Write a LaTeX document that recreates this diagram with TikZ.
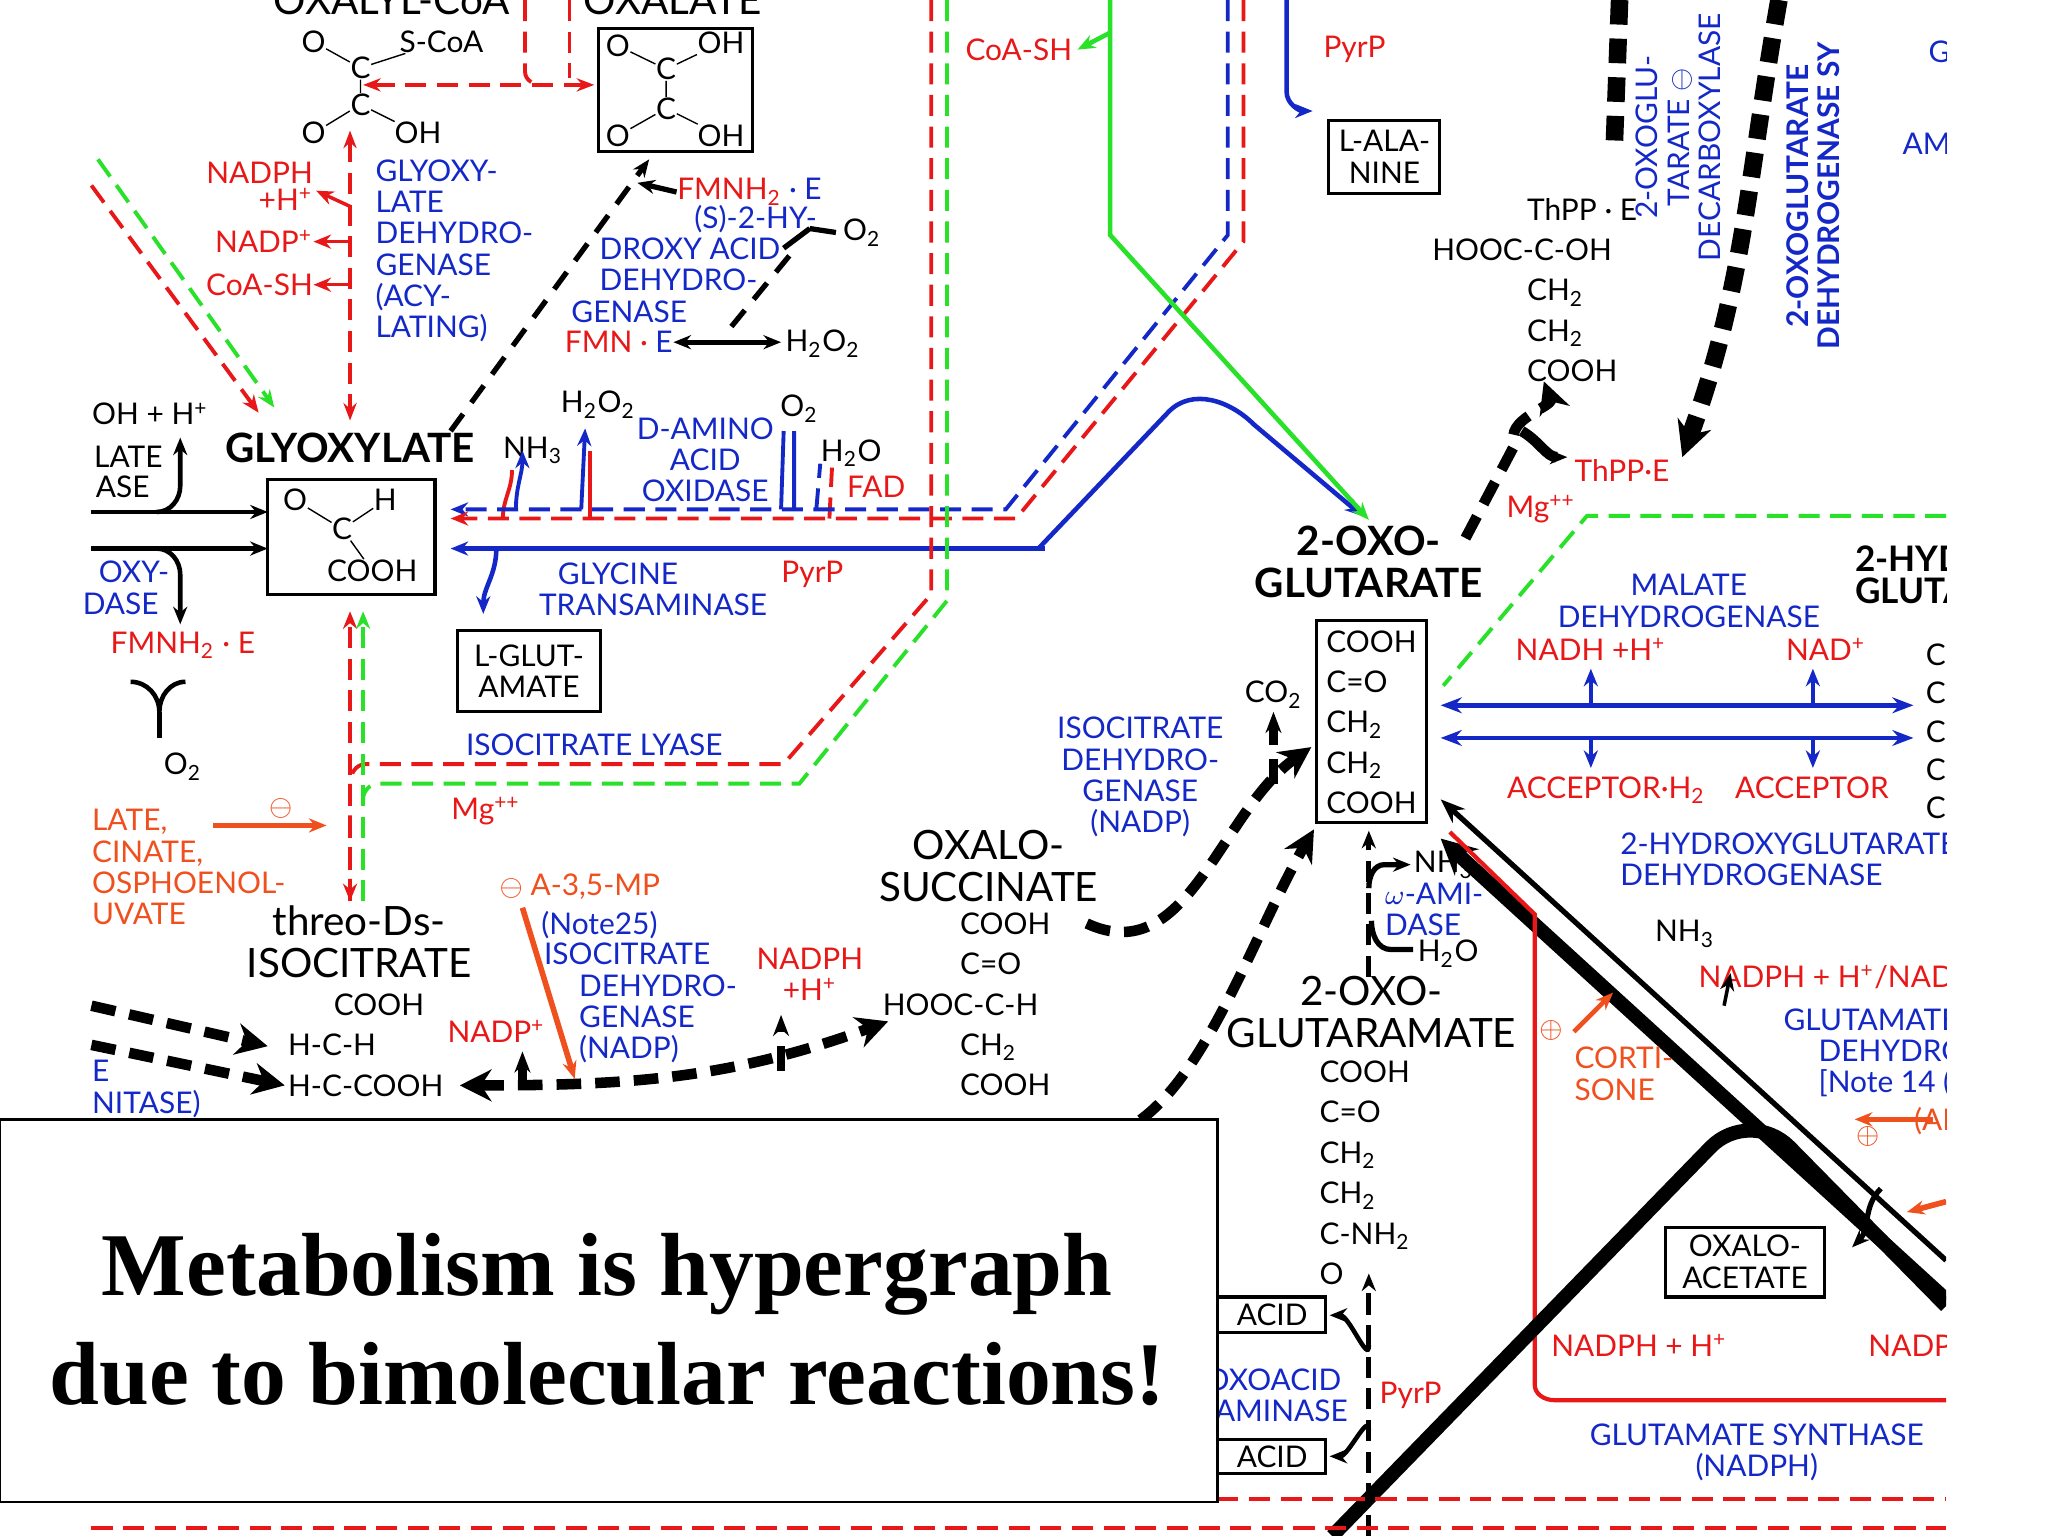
\documentclass[tikz,border=0pt]{standalone}
\usepackage{fontspec}
\setmainfont{Lato}
\newfontfamily\ttl{Liberation Serif}
\usetikzlibrary{arrows.meta}
\definecolor{rd}{RGB}{232,24,24}
\definecolor{bl}{RGB}{20,40,200}
\definecolor{gr}{RGB}{40,225,40}
\definecolor{og}{RGB}{240,80,30}
\begin{document}
\begin{tikzpicture}[x=0.01306cm,y=-0.01306cm,
  t/.style={font=\fontsize{8.5}{8.9}\selectfont,inner sep=0pt,align=center},
  tl/.style={t,align=left,anchor=west},
  big/.style={font=\bfseries\fontsize{11.5}{12}\selectfont,inner sep=0pt,align=center},
  bx/.style={draw,line width=0.9pt},
  ar/.style={-{Stealth[length=5pt,width=4pt]}},
  rdash/.style={rd,line width=1.1pt,dash pattern=on 6pt off 3pt},
  bdash/.style={bl,line width=1.1pt,dash pattern=on 6pt off 3pt},
  gdash/.style={gr,line width=1.1pt,dash pattern=on 6pt off 3pt},
  kdash/.style={black,line width=3pt,dash pattern=on 7pt off 4pt},
  bsol/.style={bl,line width=1.1pt},
  gsol/.style={gr,line width=1.1pt},
  ksol/.style={black,line width=1pt}]
\useasboundingbox (0,0) rectangle (1568,1176);
\fill[white] (0,0) rectangle (1568,1176);
\begin{scope}
\clip (0,0) rectangle (1490,1176);
% ---------- top left: oxalyl-CoA / oxalate
\node[big,font=\fontsize{11.5}{12}\selectfont] (oxcoa) at (300,0) {OXALYL-CoA};
\node[big,font=\fontsize{11.5}{12}\selectfont] (oxal) at (515,0) {OXALATE};
\node[t] (c1o) at (240,32) {O}; \node[t] (c1s) at (338,32) {S-CoA};
\node[t] (c1a) at (276,52) {C}; \node[t] (c1b) at (276,80) {C};
\node[t] (c1o2) at (240,102) {O}; \node[t] (c1oh) at (320,102) {OH};
\draw (c1o)--(c1a) (c1a)--(c1s) (c1a)--(c1b) (c1b)--(c1o2) (c1b)--(c1oh);
\draw[bx] (458,22) rectangle (576,116);
\node[t] (c2o) at (473,35) {O}; \node[t] (c2oh) at (552,33) {OH};
\node[t] (c2a) at (510,53) {C}; \node[t] (c2b) at (510,83) {C};
\node[t] (c2o2) at (473,104) {O}; \node[t] (c2oh2) at (552,104) {OH};
\draw (c2o)--(c2a) (c2a)--(c2oh) (c2a)--(c2b) (c2b)--(c2o2) (c2b)--(c2oh2);
\coordinate (rl) at (278,65); \coordinate (rr) at (455,65);
\draw[rdash,{Stealth[length=5pt]}-{Stealth[length=5pt]}] (rl)--(rr);
\draw[rdash] (402,0)--(402,55) to[out=-90,in=180] (415,65);
\draw[rdash] (436,0)--(436,60);
% glyoxylate dehydrogenase
\coordinate (g1) at (268,100); \coordinate (g2) at (268,322);
\draw[rdash,{Stealth[length=5pt]}-{Stealth[length=5pt]}] (g1)--(g2);
\node[t,rd,anchor=east] (nadph1) at (240,132) {NADPH};
\node[t,rd,anchor=east] (nadph1b) at (240,153) {+H\textsuperscript{+}};
\node[t,rd,anchor=east] (nadp1) at (240,185) {NADP\textsuperscript{+}};
\node[t,rd,anchor=east] (coa1) at (240,218) {CoA-SH};
\draw[rd,line width=1pt,ar] (268,158)--(242,146);
\draw[rd,line width=1pt,ar] (268,185)--(nadp1.east);
\draw[rd,line width=1pt,ar] (268,218)--(coa1.east);
\node[tl,bl] (gdh) at (287,192) {GLYOXY-\\LATE\\DEHYDRO-\\GENASE\\(ACY-\\LATING)};
% hydroxy acid dehydrogenase
\coordinate (hk1) at (345,330); \coordinate (hk2) at (497,122);
\draw[black,line width=1.5pt,dash pattern=on 6pt off 4pt,ar] (hk1)--(hk2);
\node[tl] (fmnh) at (518,147) {\textcolor{rd}{FMNH\textsubscript{2}} \textcolor{bl}{· E}};
\draw[ksol,line width=1.5pt,ar] (fmnh.west)--(488,140);
\node[tl,bl] (hdh) at (437,202) {\hspace*{35pt}(S)-2-HY-\\\hspace*{8pt}DROXY ACID\\\hspace*{8pt}DEHYDRO-\\GENASE};
\node[tl,rd] (fmn) at (432,262) {FMN · \textcolor{bl}{E}};
\draw[black,line width=1.5pt,dash pattern=on 6pt off 4pt] (560,250)--(605,195);
\draw[ksol,line width=1.5pt] (600,190)--(620,175) (620,175)--(640,178);
\node[tl] (o2a) at (645,178) {O\textsubscript{2}};
\draw[ksol,line width=1.5pt,ar] (560,262)--(fmn.east);
\draw[ksol,line width=1.5pt,ar] (560,262)--(598,262);
\node[tl] (h2o2a) at (601,263) {H\textsubscript{2}O\textsubscript{2}};
% left diagonals
\draw[gdash,ar] (75,122)--(210,312);
\draw[rdash,ar] (70,142)--(198,316);
% left partial stuff
\node[t,anchor=east] (ohh) at (160,317) {OH + H\textsuperscript{+}};
\node[t,anchor=east] (late) at (125,350) {LATE};
\node[t,anchor=east] (ase) at (115,373) {ASE};
\node[t,bl,anchor=east] (oxy) at (130,438) {OXY-};
\node[t,bl,anchor=east] (dase) at (122,462) {DASE};
\node[t,rd] (fmnh2b) at (140,494) {FMNH\textsubscript{2} · E};
\coordinate (glyin1) at (205,392); \coordinate (glyin2) at (205,420);
\draw[ksol,line width=1.3pt,ar] (70,392)--(glyin1);
\draw[ksol,line width=1.3pt,ar] (70,420)--(glyin2);
\draw[ksol,line width=1.3pt,ar] (120,392) to[out=0,in=-90] (138,372)--(138,335);
\draw[ksol,line width=1.3pt,ar] (120,420) to[out=0,in=90] (138,440)--(138,478);
\draw[ksol,line width=1.3pt] (100,522) to[out=0,in=90] (122,545) to[out=90,in=180] (142,522);
\draw[ksol,line width=1.3pt] (122,545)--(122,565);
\node[t] (o2b) at (140,587) {O\textsubscript{2}};
% glyoxylate
\node[big] (glyox) at (268,343) {GLYOXYLATE};
\draw[bx] (205,367) rectangle (333,455);
\node[t] (g3o) at (226,383) {O}; \node[t] (g3h) at (295,383) {H};
\node[t] (g3c) at (262,405) {C}; \node[t] (g3co) at (285,437) {COOH};
\draw (g3o)--(g3c) (g3c)--(g3h) (g3c)--(g3co);
% amino acid oxidase
\node[t] (nh3a) at (408,345) {NH\textsubscript{3}};
\node[t] (h2o2b) at (458,310) {H\textsubscript{2}O\textsubscript{2}};
\node[t,bl] (daao) at (540,352) {D-AMINO\\ACID\\OXIDASE};
\node[t] (o2c) at (612,313) {O\textsubscript{2}};
\node[tl] (h2ob) at (628,347) {H\textsubscript{2}O};
\node[tl,rd] (fad) at (648,373) {FAD};
\draw[bsol,ar] (395,390) to[out=90,in=-90] (400,345) ;
\draw[rd,line width=1.1pt] (385,397) to[out=90,in=-90] (392,360);
\draw[bsol,ar] (445,390)--(448,328);
\draw[rd,line width=1.1pt] (452,397)--(452,345);
\draw[bsol] (598,390)--(600,330) (608,330)--(608,390);
\draw[bdash] (625,390)--(628,355); \draw[rdash] (635,397)--(637,358);
% main horizontal lines
\coordinate (gla) at (345,390); \coordinate (glb) at (345,397); \coordinate (glc) at (345,420);
\draw[bdash,ar] (940,0)--(940,180)--(770,390)--(gla);
\draw[rdash,ar] (952,0)--(952,185)--(778,397)--(glb);
\coordinate (ogin1) at (1043,395);
\draw[bsol,line width=1.3pt,ar] (795,420) -- (895,315) to[out=45,in=135] (960,325) -- (ogin1);
\draw[bsol,line width=1.3pt,ar] (800,420)--(glc);
\draw[bsol,line width=1.3pt,ar] (985,0)--(985,70) to[out=-90,in=180] (1005,85);
\draw[bsol,line width=1.3pt,ar] (380,420) to[out=-90,in=90] (370,470);
\node[t,bl] (glyt) at (500,451) {\hspace*{-20pt}GLYCINE\\TRANSAMINASE};
\node[t,rd] (pyrp1) at (622,440) {PyrP};
\draw[bx] (350,483) rectangle (460,545);
\node[t] (lglu) at (405,514) {L-GLUT-\\AMATE};
% green solid
\coordinate (ogin2) at (1048,398);
\draw[gsol,line width=1.3pt,ar] (850,0)--(850,180)--(ogin2);
\node[t,rd] (coash2) at (780,38) {CoA-SH};
\draw[gsol,line width=1.3pt,ar] (850,25)--(825,38);
% isocitrate lyase
\draw[rdash,ar] (713,0)--(713,455)--(600,585)--(280,585) to[out=180,in=90] (268,600)--(268,690);
\draw[rdash,ar] (268,690)--(268,468);
\draw[gdash] (725,0)--(725,460)--(612,600)--(290,600) to[out=180,in=90] (278,612);
\draw[gdash,ar] (278,690)--(278,468);
\node[t,bl] (icl) at (455,570) {ISOCITRATE LYASE};
\node[t,rd] (mg1) at (372,621) {Mg\textsuperscript{++}};
% alanine
\node[t,rd] (pyrp2) at (1037,38) {PyrP};
\draw[bx] (1017,92) rectangle (1102,148);
\node[t] (lala) at (1060,120) {L-ALA-\\NINE};
% 2-oxoglutarate
\node[big] (og) at (1048,430) {2-OXO-\\GLUTARATE};
\draw[bx] (1008,475) rectangle (1092,630);
\node[t,align=left] (ogs) at (1050,553) {COOH\\[2.6pt]C=O\\[2.6pt]CH\textsubscript{2}\\[2.6pt]CH\textsubscript{2}\\[2.6pt]COOH};
\node[t] (co2) at (975,532) {CO\textsubscript{2}};
\draw[kdash,line width=2.5pt,-{Stealth[length=6pt]}] (975,600)--(975,545);
\coordinate (ogin3) at (1004,572); \coordinate (ogin4) at (1006,635);
\draw[kdash,-{Stealth[length=9pt,width=9pt]}] (832,707) to[out=-25,in=215] (ogin3);
\draw[kdash,-{Stealth[length=9pt,width=9pt]}] (790,860) to[out=-30,in=240] (ogin4);
\node[t,bl] (icdh) at (873,595) {ISOCITRATE\\DEHYDRO-\\GENASE\\(NADP)};
% oxalosuccinate
\node[big,font=\fontsize{11.5}{12}\selectfont] (oxs) at (757,663) {OXALO-\\SUCCINATE};
\node[t,align=left] (oxss) at (740,769) {\hspace*{22pt}COOH\\[2.6pt]\hspace*{22pt}C=O\\[2.6pt]HOOC-C-H\\[2.6pt]\hspace*{22pt}CH\textsubscript{2}\\[2.6pt]\hspace*{22pt}COOH};
% isocitrate
\node[big,font=\fontsize{11.5}{12}\selectfont] (iso) at (275,721) {threo-Ds-\\ISOCITRATE};
\node[t,align=left] (isos) at (280,800) {\hspace*{13pt}COOH\\[2.6pt]H-C-H\\[2.6pt]H-C-COOH};
\coordinate (isin1) at (205,801); \coordinate (isin2) at (218,831);
\draw[kdash,-{Stealth[length=9pt,width=9pt]}] (70,770)--(isin1);
\draw[kdash,-{Stealth[length=9pt,width=9pt]}] (70,800)--(isin2);
\node[t,bl,anchor=west] (ae) at (70,820) {E};
\node[t,bl,anchor=west] (anit) at (70,845) {NITASE)};
\coordinate (isr) at (352,831); \coordinate (oxl) at (680,782);
\draw[kdash,{Stealth[length=9pt,width=9pt]}-{Stealth[length=9pt,width=9pt]}] (isr) to[out=0,in=200] (oxl);
\node[t,rd] (nadp2) at (380,790) {NADP\textsuperscript{+}};
\node[t,rd] (nadph2) at (620,746) {NADPH\\+H\textsuperscript{+}};
\draw[kdash,line width=2.5pt,-{Stealth[length=6pt]}] (400,830)--(400,805);
\draw[kdash,line width=2.5pt,-{Stealth[length=6pt]}] (598,820)--(598,777);
\node[tl,og] (amp) at (382,679) {$\ominus$ A-3,5-MP};
\node[tl,bl] (n25) at (414,708) {(Note25)};
\node[tl,bl] (icdh2) at (416,768) {ISOCITRATE\\\hspace*{10pt}DEHYDRO-\\\hspace*{10pt}GENASE\\\hspace*{10pt}(NADP)};
\draw[og,line width=1.6pt,ar] (400,695)--(440,826);
\node[t,og,align=left,anchor=west] (inh) at (70,664) {LATE,\\CINATE,\\OSPHOENOL-\\UVATE};
\draw[og,line width=1.6pt,ar] (163,632)--(250,632);
\node[t,og] (ominus1) at (215,619) {$\ominus$};
% right: malate dehydrogenase
\coordinate (mr1) at (1103,540); \coordinate (mr2) at (1103,565);
\draw[bsol,line width=1.3pt,{Stealth[length=6pt]}-{Stealth[length=6pt]}] (mr1)--(1465,540);
\draw[bsol,line width=1.3pt,{Stealth[length=6pt]}-{Stealth[length=6pt]}] (mr2)--(1465,565);
\node[t,bl] (mdh) at (1293,460) {MALATE\\DEHYDROGENASE};
\node[t,rd] (nadh) at (1218,497) {NADH +H\textsuperscript{+}};
\node[t,rd] (nadp3) at (1398,497) {NAD\textsuperscript{+}};
\draw[bsol,ar] (1218,540)--(1218,512); \draw[bsol,ar] (1388,540)--(1388,512);
\draw[bsol,ar] (1218,565)--(1218,588); \draw[bsol,ar] (1388,565)--(1388,588);
\node[t,rd] (acc) at (1300,605) {ACCEPTOR·H\textsubscript{2}\quad ACCEPTOR};
\node[t,bl,align=left,anchor=west] (hgdh) at (1240,658) {2-HYDROXYGLUTARATE\\DEHYDROGENASE};
\node[t,align=left,anchor=west] (hyg) at (1420,440) {\bfseries\fontsize{10}{12}\selectfont 2-HYDROXY-\\\bfseries\fontsize{10}{12}\selectfont GLUTARATE};
\node[t,align=left,anchor=west] (ccol) at (1474,560) {C\\[2pt]C\\[2pt]C\\[2pt]C\\[2pt]C};
\draw[gdash] (1490,395)--(1215,395)--(1105,525);
% thpp
\coordinate (tp) at (1182,292);
\draw[kdash,-{Stealth[length=9pt,width=9pt]}] (1122,412)--(1160,340) to[out=115,in=-70] (tp);
\draw[ksol,line width=3pt,ar] (1165,330) to[out=-30,in=180] (1200,350);
\node[tl,rd] (thpe) at (1205,360) {ThPP·E};
\node[tl,rd] (mg2) at (1153,390) {Mg\textsuperscript{++}};
\node[t,align=left] (thpps) at (1175,222) {\hspace*{27pt}ThPP · E\\[2.6pt]HOOC-C-OH\\[2.6pt]\hspace*{27pt}CH\textsubscript{2}\\[2.6pt]\hspace*{27pt}CH\textsubscript{2}\\[2.6pt]\hspace*{27pt}COOH};
\draw[kdash,line width=5pt] (1240,0)--(1236,110);
\draw[kdash,line width=5pt,-{Stealth[length=10pt,width=10pt]}] (1362,0) to[out=-100,in=70] (1288,350);
\node[t,bl,rotate=90,anchor=center] (ogdc) at (1285,105) {2-OXOGLU-\\TARATE $\ominus$\\DECARBOXYLASE};
\node[t,bl,rotate=90] (ogdh) at (1388,150) {\bfseries 2-OXOGLUTARATE\\\bfseries DEHYDROGENASE SY};
\node[t,bl] (gg) at (1485,40) {G};
\node[t,bl] (am) at (1475,110) {AM};
% big black lines right
\coordinate (oga) at (1103,612); \coordinate (ogb) at (1103,642);
\draw[ksol,line width=1.5pt,{Stealth[length=7pt]}-] (oga)--(1490,965);
\draw[ksol,line width=4pt,{Stealth[length=10pt,width=10pt]}-] (ogb)--(1490,995);
\draw[rd,line width=1.2pt] (1110,637)--(1175,700)--(1175,1060) to[out=-90,in=180] (1190,1072)--(1490,1072);
\draw[ksol,line width=4pt] (1020,1176)--(1310,878) to[out=45,in=135] (1370,878)--(1490,1000);
\draw[ksol,line width=1.5pt,ar] (1440,910) to[out=-135,in=45] (1418,955);
\node[t] (nh3c) at (1290,715) {NH\textsubscript{3}};
\node[tl,rd] (nadph4) at (1300,748) {NADPH + H\textsuperscript{+}/NADP};
\draw[ksol,line width=1pt,ar] (1320,770)--(1325,745);
\node[tl,bl] (gldh) at (1365,806) {GLUTAMATE\\\hspace*{10pt}DEHYDROGENASE\\\hspace*{10pt}[Note 14 (I};
\node[tl,og] (cort) at (1205,812) {\hspace*{-10pt}$\oplus$\\CORTI-\\SONE};
\draw[og,line width=1.3pt,ar] (1205,790)--(1235,760);
\draw[og,line width=1.6pt,ar] (1480,857)--(1420,857);
\node[tl,og] (ad) at (1465,858) {(AD};
\node[t,og] (op2) at (1430,870) {$\oplus$};
\draw[og,line width=1.6pt,ar] (1490,920)--(1460,928);
\draw[bx] (1275,940) rectangle (1397,993);
\node[t] (oaa) at (1336,966) {OXALO-\\ACETATE};
\node[t,rd] (nadph5) at (1255,1030) {NADPH + H\textsuperscript{+}};
\node[tl,rd] (nadp5) at (1430,1030) {NADP};
\node[t,bl] (glus) at (1345,1112) {GLUTAMATE SYNTHASE\\(NADPH)};
% glutaramate
\coordinate (ogin5) at (1048,636);
\draw[black,line width=1.5pt,dash pattern=on 6pt off 3pt,ar] (1048,748)--(ogin5);
\draw[ksol,line width=1.5pt,ar] (1048,680) to[out=90,in=180] (1060,662)--(1080,662);
\node[tl] (nh3d) at (1082,662) {NH\textsubscript{3}};
\draw[ksol,line width=1.5pt] (1050,705) to[out=-90,in=180] (1065,727)--(1082,727);
\node[tl] (h2od) at (1085,730) {H\textsubscript{2}O};
\node[tl,bl] (wam) at (1060,696) {$\omega$-AMI-\\DASE};
\node[big,font=\fontsize{11.5}{12}\selectfont] (ogm) at (1050,775) {2-OXO-\\GLUTARAMATE};
\node[t,align=left] (ogms) at (1045,898) {COOH\\[2.6pt]C=O\\[2.6pt]CH\textsubscript{2}\\[2.6pt]CH\textsubscript{2}\\[2.6pt]C-NH\textsubscript{2}\\[2.6pt]O};
\coordinate (ogmin) at (1048,975);
\draw[black,line width=1.5pt,dash pattern=on 6pt off 3pt,ar] (1048,1176)--(ogmin);
\draw[bx] (932,993) rectangle (1015,1020);
\node[t] (acid1) at (974,1007) {ACID};
\draw[bx] (932,1102) rectangle (1015,1128);
\node[t] (acid2) at (974,1115) {ACID};
\node[t,bl] (oxo) at (975,1068) {OXOACID\\SAMINASE};
\node[t,rd] (pyrp3) at (1080,1068) {PyrP};
\draw[ksol,line width=1.3pt,ar] (1048,1030) to[out=-90,in=0] (1018,1007);
\draw[ksol,line width=1.3pt,ar] (1048,1095) to[out=90,in=0] (1018,1115);
% bottom dashed
\draw[rdash] (932,1148)--(1490,1148);
\draw[rdash] (70,1170)--(1490,1170);
% text box
\draw[line width=0.8pt,fill=white] (0,857) rectangle (932,1150);
\node[font=\ttl\bfseries\fontsize{25.5}{31}\selectfont,align=center] (ttl) at (465,1010) {Metabolism is hypergraph\\due to bimolecular reactions!};
\end{scope}
\end{tikzpicture}
\end{document}
